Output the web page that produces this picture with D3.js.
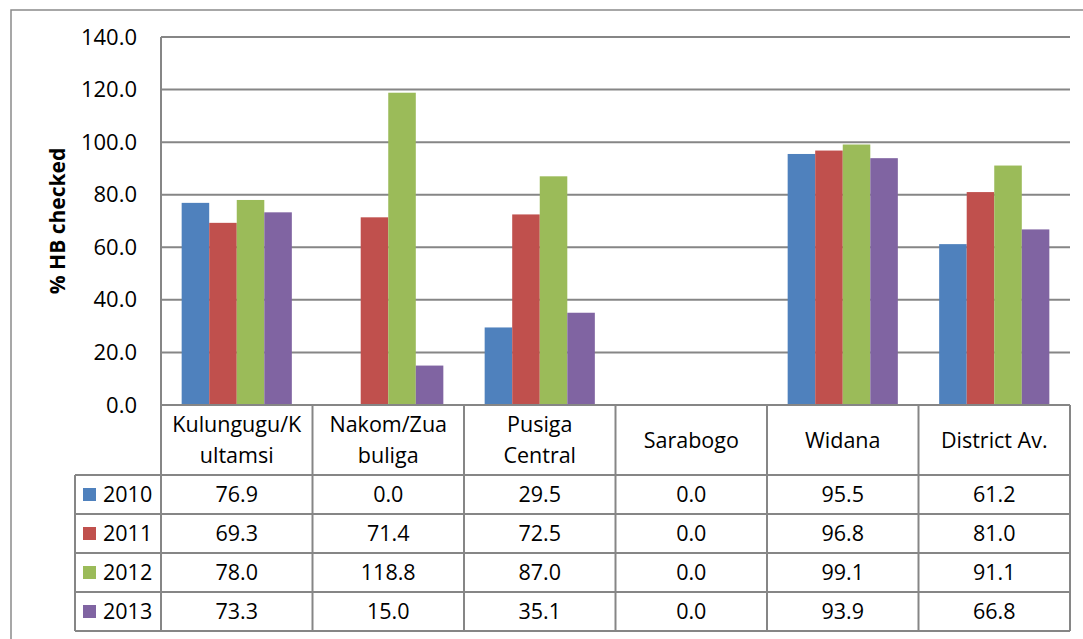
<!DOCTYPE html>
<html><head><meta charset="utf-8">
<script src="https://cdn.jsdelivr.net/npm/d3@7"></script>
<style>body{margin:0;background:#fff}svg{display:block}text{font-family:"Open Sans",sans-serif}</style>
</head><body><svg id="c" width="1083" height="639"></svg>
<script>
const categories = ["Kulungugu/K\nultamsi","Nakom/Zua\nbuliga","Pusiga\nCentral","Sarabogo","Widana","District Av."];
const years = ["2010","2011","2012","2013"];
const v2010 = [76.9, 0.0, 29.5, 0.0, 95.5, 61.2];
const v2011 = [69.3, 71.4, 72.5, 0.0, 96.8, 81.0];
const v2012 = [78.0, 118.8, 87.0, 0.0, 99.1, 91.1];
const v2013 = [73.3, 15.0, 35.1, 0.0, 93.9, 66.8];
const yTicks = [0,20,40,60,80,100,120,140];
const colors = ["#4F81BD","#C0504D","#9BBB59","#8064A2"];
const yTitle = "% HB checked";

const series = [v2010,v2011,v2012,v2013];
const svg = d3.select("#c");
const L=161, R=1070, T=37, B=405, legL=75;
const headH=70, rowH=39;
const grid="#868686";
const fs = 21.5;

svg.append("rect").attr("x",11).attr("y",10).attr("width",1100).attr("height",700)
  .attr("fill","#fff").attr("stroke","#8a8a8a").attr("stroke-width",1.5);

const x = d3.scaleBand().domain(categories).range([L,R]);
const xi = d3.scaleBand().domain(years).range([0,x.bandwidth()]).paddingOuter(0.75);
const y = d3.scaleLinear().domain([0,140]).range([B,T]);

// gridlines
svg.append("g").selectAll("line").data(yTicks.filter(d=>d>0)).join("line")
  .attr("x1",L).attr("x2",R).attr("y1",d=>y(d)).attr("y2",d=>y(d))
  .attr("stroke",grid).attr("stroke-width",2);

// bars
years.forEach((yr,i)=>{
  svg.append("g").selectAll("rect").data(series[i].map((v,j)=>({c:categories[j],v}))).join("rect")
    .attr("x",d=>x(d.c)+xi(yr)).attr("width",xi.bandwidth())
    .attr("y",d=>y(d.v)).attr("height",d=>y(0)-y(d.v))
    .attr("fill",colors[i]);
});

// y axis
const ax = svg.append("g").attr("transform",`translate(${L},0)`)
  .call(d3.axisLeft(y).tickValues(yTicks).tickFormat(d3.format(".1f")).tickSize(0).tickPadding(24));
ax.select(".domain").remove();
ax.selectAll("text").attr("font-size",22).attr("fill","#000").attr("font-family","Open Sans, sans-serif");
svg.append("line").attr("x1",L).attr("x2",L).attr("y1",T).attr("y2",B).attr("stroke",grid).attr("stroke-width",2);

// y title
svg.append("text").attr("transform",`translate(65,${(T+B)/2}) rotate(-90)`)
  .attr("text-anchor","middle").attr("font-size",21).attr("font-weight","bold").text(yTitle);

// data table
const tb = svg.append("g");
const rowTop = i => B+headH+i*rowH;
const bottom = rowTop(years.length);
tb.append("line").attr("x1",L).attr("x2",R).attr("y1",B).attr("y2",B).attr("stroke",grid).attr("stroke-width",2);
d3.range(years.length+1).forEach(i=>{
  tb.append("line").attr("x1",legL).attr("x2",R).attr("y1",rowTop(i)).attr("y2",rowTop(i)).attr("stroke",grid).attr("stroke-width",2);
});
tb.append("line").attr("x1",legL).attr("x2",legL).attr("y1",rowTop(0)).attr("y2",bottom).attr("stroke",grid).attr("stroke-width",2);
categories.forEach(c=>{
  tb.append("line").attr("x1",x(c)).attr("x2",x(c)).attr("y1",B).attr("y2",bottom).attr("stroke",grid).attr("stroke-width",2);
});
tb.append("line").attr("x1",R).attr("x2",R).attr("y1",B).attr("y2",bottom).attr("stroke",grid).attr("stroke-width",2);

// headers
categories.forEach(c=>{
  const lines = c.split("\n");
  const cx = x(c)+x.bandwidth()/2, cy = B+headH/2;
  const t = tb.append("text").attr("text-anchor","middle").attr("font-size",fs).attr("fill","#000");
  lines.forEach((ln,k)=>{
    t.append("tspan").attr("x",cx).attr("y",cy + (k-(lines.length-1)/2)*31).attr("dy","0.35em").text(ln);
  });
});
// rows
years.forEach((yr,i)=>{
  const cy = rowTop(i)+rowH/2;
  tb.append("rect").attr("x",83).attr("y",cy-6.5).attr("width",13).attr("height",13).attr("fill",colors[i]);
  tb.append("text").attr("x",103).attr("y",cy).attr("dy","0.35em").attr("font-size",fs).text(yr);
  series[i].forEach((v,j)=>{
    tb.append("text").attr("x",x(categories[j])+x.bandwidth()/2).attr("y",cy).attr("dy","0.35em")
      .attr("text-anchor","middle").attr("font-size",fs).text(d3.format(".1f")(v));
  });
});
</script></body></html>
